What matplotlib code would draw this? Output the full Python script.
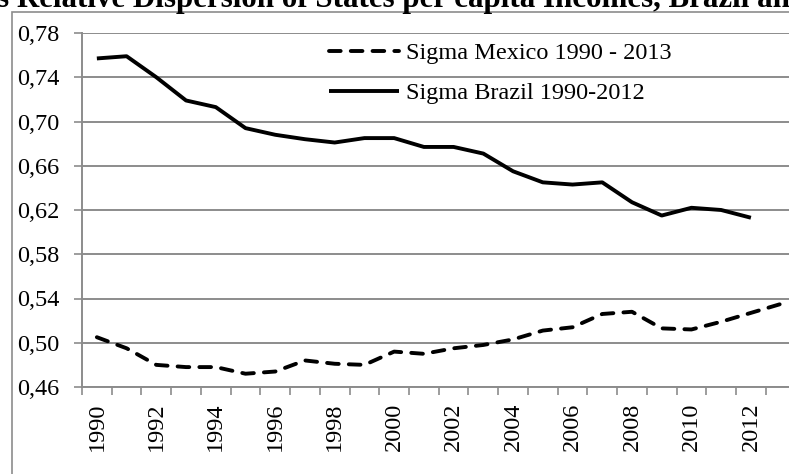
import matplotlib
matplotlib.use("Agg")
import matplotlib.pyplot as plt
from matplotlib.patches import Rectangle

years = list(range(1990, 2014))
mexico = [0.505, 0.495, 0.480, 0.478, 0.478, 0.472, 0.474, 0.484, 0.481, 0.480,
          0.492, 0.490, 0.495, 0.498, 0.503, 0.511, 0.514, 0.526, 0.528, 0.513,
          0.512, 0.519, 0.527, 0.535]
brazil_years = list(range(1990, 2013))
brazil = [0.757, 0.759, 0.740, 0.719, 0.713, 0.694, 0.688, 0.684, 0.681, 0.685,
          0.685, 0.677, 0.677, 0.671, 0.655, 0.645, 0.643, 0.645, 0.627, 0.615,
          0.622, 0.620, 0.613]
ytick_vals = [0.46, 0.50, 0.54, 0.58, 0.62, 0.66, 0.70, 0.74, 0.78]
ytick_labels = ["0,46", "0,50", "0,54", "0,58", "0,62", "0,66", "0,70", "0,74", "0,78"]
label_mex = "Sigma Mexico 1990 - 2013"
label_bra = "Sigma Brazil 1990-2012"
title = "s Relative Dispersion of States per capita Incomes, Brazil and Mexico"

plt.rcParams['font.family'] = ['Liberation Serif', 'DejaVu Serif']
W, H = 789, 474
fig = plt.figure(figsize=(W / 100, H / 100), dpi=100)
grid_c = '#8c8c8c'
fs = 17.5

# outer chart border (cropped)
fig.patches.append(Rectangle((12 / W, -0.2), 1.2, (H - 12.5) / H + 0.2, transform=fig.transFigure,
                             fill=False, edgecolor=grid_c, linewidth=1.2))

ax = fig.add_axes([82 / W, 1 - 387 / H, (795.5 - 82) / W, (387 - 33) / H])

xm = [y - years[0] + 0.5 for y in years]
xb = [y - years[0] + 0.5 for y in brazil_years]
ax.plot(xm, mexico, color='black', lw=2.8, linestyle=(0, (3.0, 2.6)),
        dash_capstyle='round', label=label_mex, clip_on=False)
ax.plot(xb, brazil, color='black', lw=2.8, label=label_bra, solid_capstyle='butt')

ax.set_xlim(0, len(years))
ax.set_ylim(0.46, 0.78)
ax.set_yticks(ytick_vals)
ax.set_yticklabels(ytick_labels)
ax.set_xticks(range(0, len(years) + 1))
ax.set_xticklabels([])
ax.set_xticks([i + 0.5 for i in range(0, len(years), 2)], minor=True)
ax.set_xticklabels([str(y) for y in years[::2]], minor=True, rotation=90)
ax.tick_params(axis='x', which='major', length=5.5, width=1.2, color=grid_c, direction='out')
ax.tick_params(axis='x', which='minor', length=0, pad=11, labelsize=fs)
ax.tick_params(axis='y', length=6, width=1.2, color=grid_c, labelsize=fs, pad=10)
ax.grid(axis='y', color=grid_c, linewidth=1.4)
ax.set_axisbelow(True)
for s in ['top', 'right']:
    ax.spines[s].set_visible(False)
for s in ['left', 'bottom']:
    ax.spines[s].set_color(grid_c)
    ax.spines[s].set_linewidth(1.4)

leg = fig.legend(loc='upper left', bbox_to_anchor=(329 / W, 1 - 42 / H), frameon=False,
                 fontsize=fs, handlelength=2.9, handletextpad=0.25, labelspacing=0.76,
                 borderpad=0, borderaxespad=0)

fig.text(-3 / W, 1 - 7.5 / H, title, ha='left', va='baseline', fontsize=22.3, fontweight='bold')

fig.savefig('out.png', dpi=100)
